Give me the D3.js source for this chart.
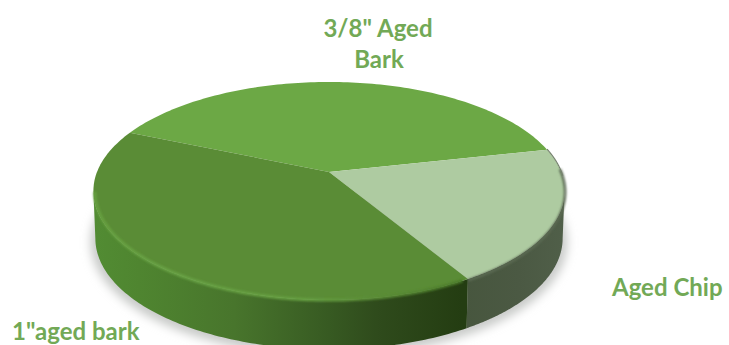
<!DOCTYPE html>
<html>
<head>
<meta charset="utf-8">
<script src="https://cdn.jsdelivr.net/npm/d3@7"></script>
<style>
html,body{margin:0;padding:0;background:#fff;overflow:hidden}
text{font-family:Lato,"Open Sans",sans-serif;font-weight:700;font-size:24px;fill:#72a956}
</style>
</head>
<body>
<svg id="chart" width="729" height="345"></svg>
<script>
const categories = ['3/8" Aged Bark', 'Aged Chip', '1"aged bark'];
const shares = [40, 20, 40];
const topColors = ['#6ca845', '#aecba1', '#5a8c36'];

const svg = d3.select('#chart');
const defs = svg.append('defs');

// Tilted-disc projection: nearer points of the disc are drawn larger
const cx = 329, cy = 172, radiusX = 232, radiusY = 105.7, tilt = 0.174, depth = 47;
function project(angle, r = 1, drop = 0) {
  const X = r * Math.sin(angle), Y = -r * Math.cos(angle), w = 1 - tilt * Y;
  return [cx + radiusX * X / w, cy + radiusY * Y / w + drop * (1 + 0.08 * Y)];
}
const toRad = d3.scaleLinear().domain([0, 360]).range([0, 2 * Math.PI]);
const arcs = d3.pie().sort(null).value(d => d)
  .startAngle(toRad(-66.6)).endAngle(toRad(293.4))(shares);

// Angles at which the projected disc is widest; the walls are visible between them
const widestRight = Math.acos(-tilt), widestLeft = 2 * Math.PI - widestRight;

const line = d3.line();
const sample = (a0, a1, n = 120) => d3.range(n + 1).map(i => a0 + (a1 - a0) * i / n);
const rimPts = (a0, a1, r, drop) => sample(a0, a1).map(a => project(a, r, drop));

function sliceTop(a) { return line([[cx, cy], ...rimPts(a.startAngle, a.endAngle, 1, 0)]) + 'Z'; }
function wall(a0, a1) {
  return line([...rimPts(a0, a1, 1, 0), ...rimPts(a1, a0, 0.992, depth)]) + 'Z';
}

function blur(id, s) {
  defs.append('filter').attr('id', id)
    .attr('x', '-10%').attr('y', '-10%').attr('width', '120%').attr('height', '120%')
    .append('feGaussianBlur').attr('stdDeviation', s);
}
blur('soft', 5);
blur('edge', 1.3);

function hGrad(id, stops) {
  const g = defs.append('linearGradient').attr('id', id).attr('gradientUnits', 'userSpaceOnUse')
    .attr('x1', 92).attr('x2', 566).attr('y1', 0).attr('y2', 0);
  stops.forEach(([o, c]) => g.append('stop').attr('offset', o).attr('stop-color', c));
}
hGrad('wallBark', [[0, '#528c33'], [0.1, '#4f8530'], [0.3, '#48752c'], [0.5, '#375a22'], [0.6, '#2f4b1c'], [0.78, '#243d12'], [1, '#243d12']]);
hGrad('wallChip', [[0, '#4a5843'], [0.78, '#47563e'], [0.9, '#4b5943'], [1, '#505f49']]);
hGrad('rimBark', [[0, '#66a040'], [0.15, '#69a345'], [0.45, '#66a042'], [0.6, '#5a8c36'], [0.78, '#4a7a2a'], [1, '#4a7a2a']]);

// Soft contact shadow under the disc
svg.append('path')
  .attr('d', line(rimPts(toRad(80), toRad(290), 1.012, depth + 3)) + 'Z')
  .attr('fill', '#c9cbc9').attr('filter', 'url(#soft)');

const [barkA, chip, barkB] = arcs;

// Side walls of the two front slices
svg.append('path').attr('d', wall(widestRight, chip.endAngle)).attr('fill', 'url(#wallChip)');
svg.append('path').attr('d', wall(barkB.startAngle, widestLeft)).attr('fill', 'url(#wallBark)');

// Top faces
svg.append('g').selectAll('path').data(arcs).join('path')
  .attr('d', sliceTop)
  .attr('fill', (d, i) => topColors[i]);

// Bevel highlight along the front edge of the large slice
svg.append('path')
  .attr('d', line(rimPts(barkB.startAngle + 0.02, widestLeft, 0.994, 1)))
  .attr('fill', 'none').attr('stroke', 'url(#rimBark)').attr('stroke-width', 3)
  .attr('filter', 'url(#edge)');

// Dark rolled edge on the pale slice
svg.append('path')
  .attr('d', line(rimPts(toRad(88), chip.endAngle, 1.002, 1)))
  .attr('fill', 'none').attr('stroke', '#5b6a52').attr('stroke-width', 2.6)
  .attr('filter', 'url(#edge)');

// Thin shaded outline where the far rim meets the white page on the right
svg.append('path')
  .attr('d', line(rimPts(toRad(77), toRad(92), 1.002, 0)))
  .attr('fill', 'none').attr('stroke', '#76836e').attr('stroke-width', 1.2);

// Category labels
const labelGroup = svg.append('g');
const topLabel = labelGroup.append('text').attr('text-anchor', 'middle');
topLabel.append('tspan').attr('x', 378).attr('y', 37).text('3/8" Aged');
topLabel.append('tspan').attr('x', 379).attr('y', 68).text('Bark');
labelGroup.append('text').attr('x', 612).attr('y', 296).text(categories[1]);
labelGroup.append('text').attr('x', 12).attr('y', 340).text(categories[2]);
</script>
</body>
</html>
